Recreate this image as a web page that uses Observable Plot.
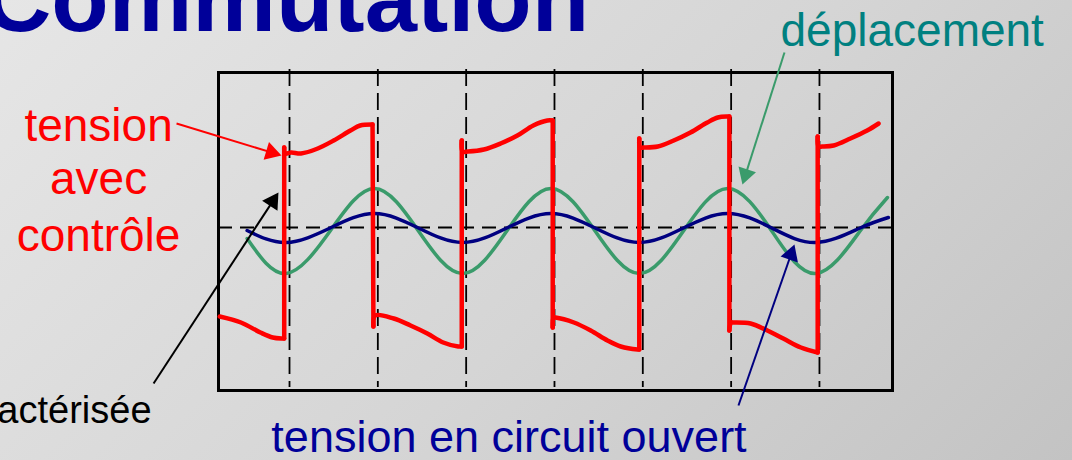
<!DOCTYPE html>
<html>
<head>
<meta charset="utf-8">
<script src="https://cdn.jsdelivr.net/npm/d3@7"></script>
<script src="https://cdn.jsdelivr.net/npm/@observablehq/plot@0.6"></script>
<style>
  html, body { margin: 0; padding: 0; }
  body {
    width: 1072px; height: 460px; overflow: hidden;
    background: linear-gradient(135deg, #e6e6e6 0%, #d5d5d5 55%, #c3c3c3 100%);
    font-family: "Liberation Sans", Arial, sans-serif;
  }
  #chart svg { display: block; }
</style>
</head>
<body>
<div id="chart"></div>
<script>
// ---------------- data (time in half-periods, values in arbitrary volts) ----------------
const dashT = [1, 2, 3, 4, 5, 6, 7];
const zeroLevel = [0];

// displacement (green)
const greenT = [0.52, 0.96, 1.46, 1.96, 2.46, 2.96, 3.46, 3.96, 4.46, 4.96, 5.46, 5.96, 6.46, 6.96, 7.46, 7.77];
const greenV = [-1.1, -4.6, -0.35, 3.9, -0.35, -4.6, -0.35, 3.9, -0.35, -4.6, -0.35, 3.9, -0.35, -4.6, -0.35, 3.0];

// open-circuit voltage (navy)
const blueT = [0.52, 0.96, 1.46, 1.96, 2.46, 2.96, 3.46, 3.96, 4.46, 4.96, 5.46, 5.96, 6.46, 6.96, 7.46, 7.78];
const blueV = [-0.3, -1.5, -0.05, 1.4, -0.05, -1.5, -0.05, 1.4, -0.05, -1.5, -0.05, 1.4, -0.05, -1.5, -0.05, 1.0];

// controlled voltage (red)
const redT = [0.21, 0.45, 0.67, 0.81, 0.92, 0.94,
  0.94, 0.95, 1.02, 1.13, 1.32, 1.50, 1.69, 1.80, 1.94,
  1.95, 1.97, 2.18, 2.37, 2.56, 2.74, 2.91, 2.95,
  2.95, 2.96, 3.02, 3.20, 3.39, 3.58, 3.76, 3.92, 3.98,
  3.98, 3.99, 4.01, 4.22, 4.41, 4.60, 4.75, 4.94, 4.96,
  4.96, 4.97, 5.01, 5.17, 5.35, 5.54, 5.73, 5.85, 5.96, 5.98,
  5.98, 6.00, 6.03, 6.22, 6.41, 6.59, 6.79, 6.98,
  6.98, 6.99, 7.03, 7.16, 7.35, 7.54, 7.67];
const redV = [-8.9, -9.5, -10.5, -11.0, -11.1, -11.1,
  8.0, 7.4, 7.5, 7.4, 7.9, 8.7, 9.7, 10.2, 10.3,
  -9.9, -8.8, -9.1, -9.8, -10.6, -11.5, -11.9, -11.9,
  8.7, 7.6, 7.6, 7.8, 8.4, 9.2, 10.2, 10.7, 10.7,
  -10.0, -9.0, -9.0, -9.5, -10.3, -11.3, -11.9, -12.2, -12.2,
  8.9, 8.0, 8.0, 8.1, 8.7, 9.5, 10.5, 11.0, 11.1, 11.1,
  -10.3, -9.5, -9.5, -9.6, -10.3, -11.1, -12.0, -12.5,
  9.1, 8.1, 8.1, 8.2, 8.9, 9.7, 10.4];

// texts
const titleText = "Commutation";
const redLabelLines = ["tension", "avec", "contrôle"];
const greenLabel = "déplacement";
const blueLabel = "tension en circuit ouvert";
const blackLabel = "actérisée";

// ---------------- layout (annotation anchors, in data units) ----------------
const W = 1072, H = 460;
const M = {top: 72, right: 180, bottom: 70, left: 218};
const xDomain = [0.196, 7.827];
const yDomain = [-16.3, 15.5];
const kx = (W - M.left - M.right) / (xDomain[1] - xDomain[0]);
const ky = (H - M.top - M.bottom) / (yDomain[1] - yDomain[0]);

const RED = "#ff0000", GREEN = "#3a9b6b", NAVY = "#000080", TITLE = "#000099", TEAL = "#008080";

const arrows = [
  {x1: -0.279, y1: 10.4, x2: 0.909, y2: 7.2, color: RED},
  {x1: -0.539, y1: -15.6, x2: 0.875, y2: 3.5, color: "#000000"},
  {x1: 6.604, y1: 17.5, x2: 6.128, y2: 4.3, color: GREEN},
  {x1: 6.083, y1: -17.8, x2: 6.717, y2: -1.7, color: NAVY}
];
const headR = 6.8;
const tipDist = 2 * Math.sqrt(Math.PI * headR * headR / (3 * Math.sqrt(3)));
for (const a of arrows) {
  const dxs = (a.x2 - a.x1) * kx, dys = -(a.y2 - a.y1) * ky;
  const len = Math.hypot(dxs, dys);
  const ux = dxs / len, uy = dys / len;
  a.rot = Math.atan2(dxs, -dys) * 180 / Math.PI;
  a.hx = a.x2 - ux * tipDist / kx;
  a.hy = a.y2 + uy * tipDist / ky;
}

const redLabelX = -1.162, redLabelY = [8.7, 3.4, -2.3];
const redLabels = redLabelLines.map((s, i) => ({s, x: redLabelX, y: redLabelY[i]}));

const line = (T, V) => T.map((t, i) => ({t, v: V[i]}));

// split the red trace into smooth pieces separated by the switching jumps
const redRows = [], redJumps = [];
let piece = 0;
for (let i = 0; i < redT.length; ++i) {
  if (i > 0 && Math.abs(redV[i] - redV[i - 1]) > 5) {
    ++piece;
    redJumps.push({t1: redT[i - 1], v1: redV[i - 1], t2: redT[i], v2: redV[i]});
  }
  redRows.push({t: redT[i], v: redV[i], piece});
}

const chart = Plot.plot({
  width: W, height: H,
  marginTop: M.top, marginRight: M.right, marginBottom: M.bottom, marginLeft: M.left,
  x: {domain: xDomain, axis: null},
  y: {domain: yDomain, axis: null},
  style: {background: "transparent", fontFamily: "'Liberation Sans', Arial, sans-serif"},
  marks: [
    Plot.ruleY(zeroLevel, {stroke: "#000", strokeWidth: 1.8, strokeDasharray: "14,8"}),
    Plot.ruleX(dashT, {y1: 15.8, y2: -16.0, stroke: "#000", strokeWidth: 1.8, strokeDasharray: "17,7"}),
    Plot.frame({stroke: "#000", strokeWidth: 3}),
    Plot.line(line(greenT, greenV), {x: "t", y: "v", stroke: GREEN, strokeWidth: 3.5, curve: "natural"}),
    Plot.line(line(blueT, blueV), {x: "t", y: "v", stroke: NAVY, strokeWidth: 3.5, curve: "natural"}),
    Plot.line(redRows, {x: "t", y: "v", z: "piece", stroke: RED, strokeWidth: 4.5, curve: "catmull-rom", strokeLinejoin: "round", strokeLinecap: "round"}),
    Plot.link(redJumps, {x1: "t1", y1: "v1", x2: "t2", y2: "v2", stroke: RED, strokeWidth: 4.5, strokeLinecap: "round"}),
    Plot.link(arrows, {x1: "x1", y1: "y1", x2: "hx", y2: "hy", stroke: "color", strokeWidth: 2}),
    Plot.dot(arrows, {x: "hx", y: "hy", symbol: "triangle", r: headR, fill: "color", stroke: "none", rotate: "rot"}),
    Plot.text([titleText], {x: -2.465, y: 19.7, text: d => d, fill: TITLE, fontSize: 94, fontWeight: "bold", textAnchor: "start", lineAnchor: "bottom"}),
    Plot.text(redLabels, {x: "x", y: "y", text: "s", fill: RED, fontSize: 46, textAnchor: "middle", lineAnchor: "bottom"}),
    Plot.text([greenLabel], {x: 6.559, y: 18.2, text: d => d, fill: TEAL, fontSize: 46, textAnchor: "start", lineAnchor: "bottom"}),
    Plot.text([blueLabel], {x: 3.485, y: -22.4, text: d => d, fill: TITLE, fontSize: 45, textAnchor: "middle", lineAnchor: "bottom"}),
    Plot.text([blackLabel], {x: -0.562, y: -19.5, text: d => d, fill: "#000", fontSize: 38, textAnchor: "end", lineAnchor: "bottom"})
  ]
});
document.getElementById("chart").append(chart);
</script>
</body>
</html>
